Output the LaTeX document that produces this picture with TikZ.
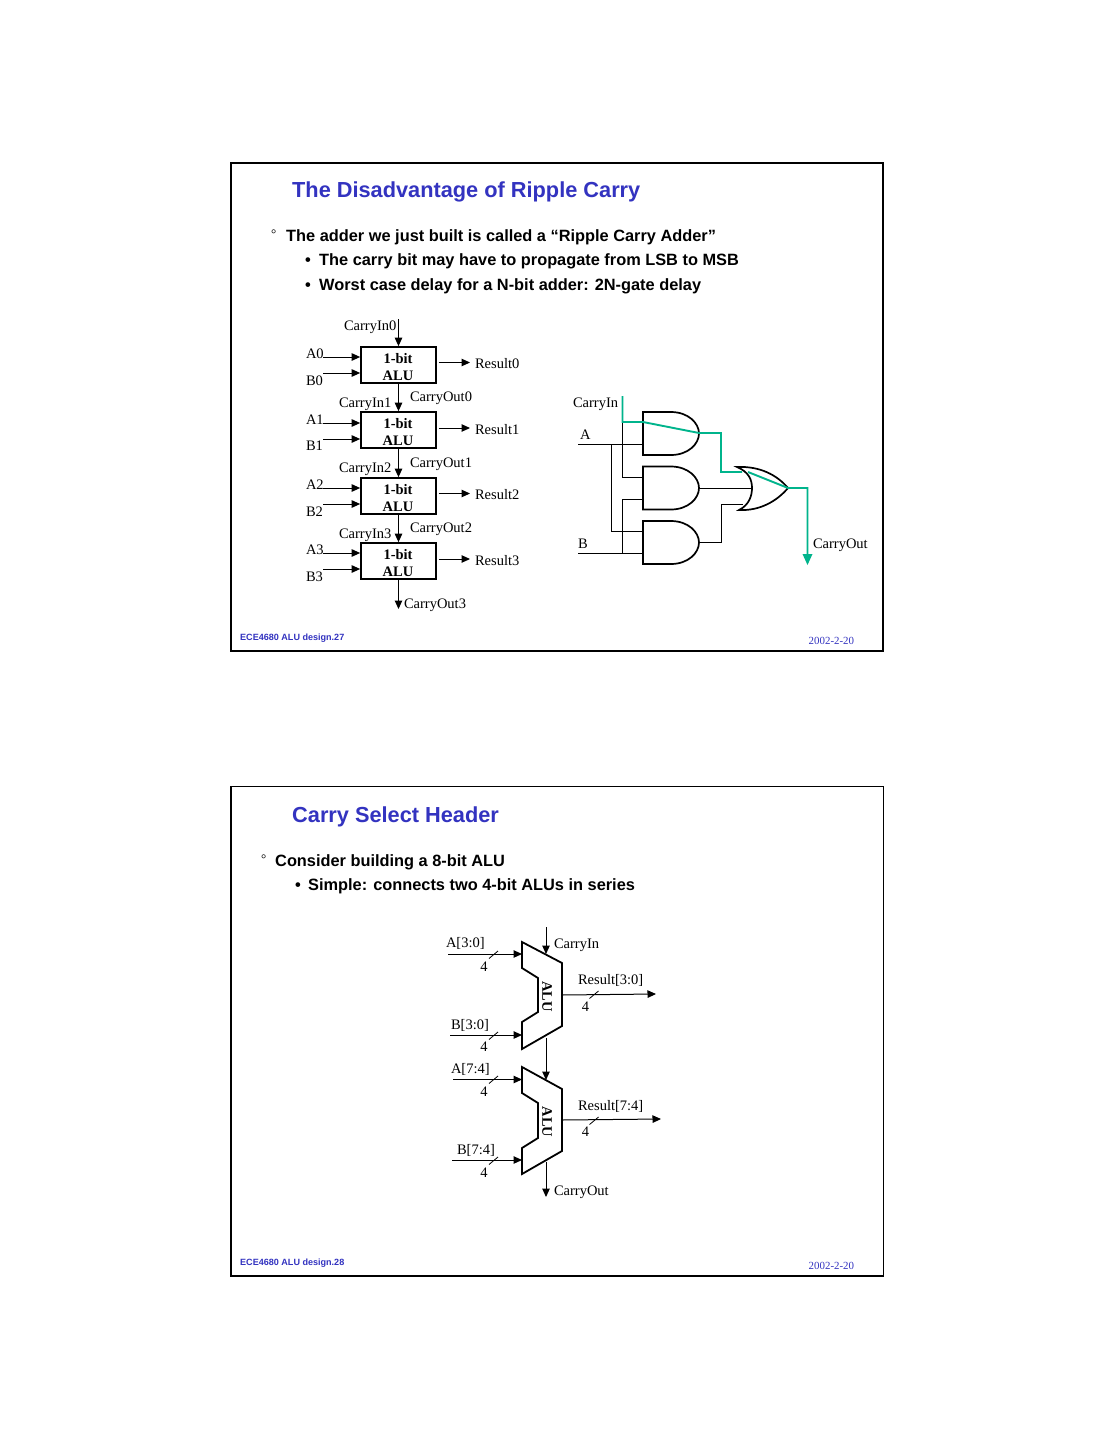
\documentclass[tikz,border=0pt]{standalone}
\usepackage{fontspec}
\setmainfont{Liberation Serif}
\newfontfamily\arialf{Liberation Sans}
\usetikzlibrary{arrows.meta,calc}
\definecolor{ttl}{HTML}{3333C0}
\definecolor{grn}{HTML}{00B48C}
\tikzset{
  x=1pt,y=-1pt,
  lab/.style={anchor=base west,inner sep=0pt,outer sep=0pt,font=\fontsize{14.5}{17}\selectfont},
  labc/.style={anchor=base,inner sep=0pt,outer sep=0pt,font=\fontsize{14.5}{17}\selectfont},
  ttlt/.style={anchor=base west,inner sep=0pt,text=ttl,font=\arialf\bfseries\fontsize{21.75}{25}\selectfont},
  bul/.style={anchor=base west,inner sep=0pt,font=\arialf\bfseries\fontsize{16.35}{20}\selectfont},
  foot/.style={anchor=base west,inner sep=0pt,text=ttl,font=\arialf\bfseries\fontsize{9.05}{10}\selectfont},
  dat/.style={anchor=base west,inner sep=0pt,text=ttl,font=\fontsize{10.9}{13}\selectfont},
  alubox/.style={draw,line width=1.7pt,minimum width=75pt,minimum height=36pt,inner sep=0pt},
  boxt/.style={anchor=base,inner sep=0pt,font=\bfseries\fontsize{14.5}{17}\selectfont},
  wire/.style={line width=1pt},
  arr/.style={line width=1pt,-{Triangle[length=8.5pt,width=7.5pt]}},
  gate/.style={line width=1.7pt},
  gwire/.style={draw=grn,line width=1.9pt},
  shp/.style={line width=1.8pt},
  alut/.style={rotate=-90,inner sep=0pt,font=\bfseries\fontsize{14.5}{17}\selectfont},
}
\newcommand{\andgate}[1]{%
  \draw[gate] (643,#1) -- (671,#1) .. controls (688,#1) and (699,#1+11) .. (699,#1+21.5)
    .. controls (699,#1+32) and (688,#1+43) .. (671,#1+43) -- (643,#1+43) -- cycle;}
\newcommand{\busmark}[2]{\draw[line width=.8pt] (#1-4.5,#2+4) -- (#1+4.5,#2-3.5);}
\begin{document}
\begin{tikzpicture}
\useasboundingbox (0,0) rectangle (1113,1440);
\fill[white] (0,0) rectangle (1113,1440);
% frames
\draw[line width=2pt] (231,162.5) rectangle (883,651);
\draw[line width=1.2pt] (231,786.5) rectangle (883.5,1276);
% slide 1 text
\node[ttlt] (t1) at (292,197) {The Disadvantage of Ripple Carry};
\node[lab,font=\fontsize{13}{15}\selectfont] (deg1) at (271,238) {°};
\node[bul] (b11) at (286,241) {The adder we just built is called a “Ripple Carry Adder”};
\node[bul] (d12) at (305,265) {•};
\node[bul] (b12) at (319,265) {The carry bit may have to propagate from LSB to MSB};
\node[bul] (d13) at (305,290) {•};
\node[bul] (b13) at (319,290) {Worst case delay for a N-bit adder: 2N-gate delay};
\node[foot] (f1) at (240,640) {ECE4680 ALU design.27};
\node[dat] (dt1) at (808.5,644) {2002-2-20};
% ALU boxes
\node[alubox] (al0) at (398.5,365) {};
\node[alubox] (al1) at (398.5,430) {};
\node[alubox] (al2) at (398.5,496) {};
\node[alubox] (al3) at (398.5,561) {};
\node[boxt] (p0) at (398,363) {1-bit};
\node[boxt] (q0) at (398,380) {ALU};
\node[boxt] (p1) at (398,428) {1-bit};
\node[boxt] (q1) at (398,445.5) {ALU};
\node[boxt] (p2) at (398,494) {1-bit};
\node[boxt] (q2) at (398,511.5) {ALU};
\node[boxt] (p3) at (398,559) {1-bit};
\node[boxt] (q3) at (398,576.5) {ALU};
\coordinate (ci0) at (398.5,319);
\coordinate (co3) at (398.5,609);
\draw[arr] (ci0) -- (al0.north);
\draw[arr] (al0.south) -- (al1.north);
\draw[arr] (al1.south) -- (al2.north);
\draw[arr] (al2.south) -- (al3.north);
\draw[arr] (al3.south) -- (co3);
\foreach \i/\ya/\yb/\yr in {0/357/373/362.5,1/423/439/428,2/488/504/493.5,3/553/569/559}{
  \coordinate (ia\i) at (323,\ya);
  \coordinate (ib\i) at (323,\yb);
  \coordinate (or\i) at (470,\yr);
  \draw[arr] (ia\i) -- (ia\i -| al\i.west);
  \draw[arr] (ib\i) -- (ib\i -| al\i.west);
  \draw[arr] (or\i -| al\i.east) ++(2,0) -- (or\i);
}
\node[lab] (lci0) at (344,330) {CarryIn0};
\node[lab] (la0) at (306,358) {A0};
\node[lab] (lb0) at (306,385) {B0};
\node[lab] (lr0) at (475,368) {Result0};
\node[lab] (lco0) at (410,401) {CarryOut0};
\node[lab] (lci1) at (339,407) {CarryIn1};
\node[lab] (la1) at (306,424) {A1};
\node[lab] (lb1) at (306,450) {B1};
\node[lab] (lr1) at (475,434) {Result1};
\node[lab] (lco1) at (410,467) {CarryOut1};
\node[lab] (lci2) at (339,472) {CarryIn2};
\node[lab] (la2) at (306,489) {A2};
\node[lab] (lb2) at (306,516) {B2};
\node[lab] (lr2) at (475,499) {Result2};
\node[lab] (lco2) at (410,532) {CarryOut2};
\node[lab] (lci3) at (339,538) {CarryIn3};
\node[lab] (la3) at (306,554) {A3};
\node[lab] (lb3) at (306,581) {B3};
\node[lab] (lr3) at (475,565) {Result3};
\node[lab] (lco3) at (404,608) {CarryOut3};
% gates
\andgate{412}
\andgate{466.5}
\andgate{521}
\draw[gate] (737,467) .. controls (760,466) and (777,475) .. (788,488)
  .. controls (777,501) and (760,511) .. (739,510)
  .. controls (749,505) and (752,496) .. (752,488)
  .. controls (752,480) and (749,472) .. (737,467) -- cycle;
\coordinate (ga) at (578,444);
\coordinate (gb) at (578,553);
\coordinate (a1a) at (643,444);
\coordinate (a1b) at (643,422);
\coordinate (a2a) at (643,477);
\coordinate (a2b) at (643,499);
\coordinate (a3a) at (643,531);
\coordinate (a3b) at (643,553);
\coordinate (a1o) at (699,433);
\coordinate (a2o) at (699,488);
\coordinate (a3o) at (699,542.5);
\coordinate (oa) at (742,472);
\coordinate (ob) at (751,488);
\coordinate (oc) at (743,504);
\coordinate (oo) at (788,488);
\coordinate (cin) at (622.5,396);
\coordinate (cot) at (807.5,565);
\coordinate (cots) at (807.5,554);
\draw[wire] (ga) -- (a1a);
\draw[wire] (611,444) |- (a3a);
\draw[wire] (622.5,422) |- (a2a);
\draw[wire] (a2b) -| (622.5,553);
\draw[wire] (gb) -- (a3b);
\draw[wire] (a2o) -- (ob);
\draw[wire] (a3o) -| (721,504) -- (oc);
\draw[gwire] (cin) |- (a1b) -- (a1o) -| (721,472) -- (oa);
\draw[gwire] (748,472) -- (oo) -| (cots);
\fill[grn] (cot) -- (802.5,554) -- (812.5,554) -- cycle;
\node[lab] (lcin) at (573,407) {CarryIn};
\node[lab] (lga) at (580,439) {A};
\node[lab] (lgb) at (578,548) {B};
\node[lab] (lcot) at (813,548) {CarryOut};
% slide 2 text
\node[ttlt] (t2) at (292,822) {Carry Select Header};
\node[lab,font=\fontsize{13}{15}\selectfont] (deg2) at (261,863) {°};
\node[bul] (b21) at (275,866) {Consider building a 8-bit ALU};
\node[bul] (d22) at (295,890) {•};
\node[bul] (b22) at (308,890) {Simple: connects two 4-bit ALUs in series};
\node[foot] (f2) at (240,1265) {ECE4680 ALU design.28};
\node[dat] (dt2) at (808.5,1269) {2002-2-20};
% ALU shapes
\draw[shp] (522,942) -- (562,963) -- (562,1026) -- (522,1049) -- (522,1022) -- (538,1012) -- (538,978) -- (522,968) -- cycle;
\draw[shp] (522,1067) -- (562,1089) -- (562,1151) -- (522,1174) -- (522,1148) -- (538,1138) -- (538,1103) -- (522,1093) -- cycle;
\node[alut] (u1) at (547,996.5) {ALU};
\node[alut] (u2) at (547,1122) {ALU};
\coordinate (s1a) at (448,954);
\coordinate (e1a) at (522,954);
\coordinate (s1b) at (450,1035);
\coordinate (e1b) at (522,1035);
\coordinate (s2a) at (453,1079.5);
\coordinate (e2a) at (522,1079.5);
\coordinate (s2b) at (452,1160);
\coordinate (e2b) at (522,1160);
\coordinate (scin) at (546,927);
\coordinate (ecin) at (546,954);
\coordinate (smid) at (546,1038);
\coordinate (emid) at (546,1080);
\coordinate (scot) at (546,1162);
\coordinate (ecot) at (546,1197);
\coordinate (sr1) at (562,995);
\coordinate (er1) at (656,994);
\coordinate (sr2) at (562,1120);
\coordinate (er2) at (661,1119);
\foreach \p in {1a,1b,2a,2b}{\draw[arr] (s\p) -- (e\p);}
\draw[arr] (scin) -- (ecin);
\draw[arr] (smid) -- (emid);
\draw[arr] (scot) -- (ecot);
\draw[arr] (sr1) -- (er1);
\draw[arr] (sr2) -- (er2);
\busmark{493.5}{954.5}
\busmark{493.5}{1035.5}
\busmark{493.5}{1079.5}
\busmark{493.5}{1160.5}
\busmark{594}{994.5}
\busmark{594}{1120.5}
\node[lab] (l1a) at (446,947) {A[3:0]};
\node[labc] (n1a) at (484,971) {4};
\node[lab] (lc2) at (554,948) {CarryIn};
\node[lab] (lr31) at (578,984) {Result[3:0]};
\node[labc] (n31) at (585.5,1011) {4};
\node[lab] (l1b) at (451,1029) {B[3:0]};
\node[labc] (n1b) at (484,1051) {4};
\node[lab] (l2a) at (451,1073) {A[7:4]};
\node[labc] (n2a) at (484,1096) {4};
\node[lab] (lr74) at (578,1110) {Result[7:4]};
\node[labc] (n74) at (585.5,1136) {4};
\node[lab] (l2b) at (457,1154) {B[7:4]};
\node[labc] (n2b) at (484,1177) {4};
\node[lab] (lc3) at (554,1195) {CarryOut};
\end{tikzpicture}
\end{document}
